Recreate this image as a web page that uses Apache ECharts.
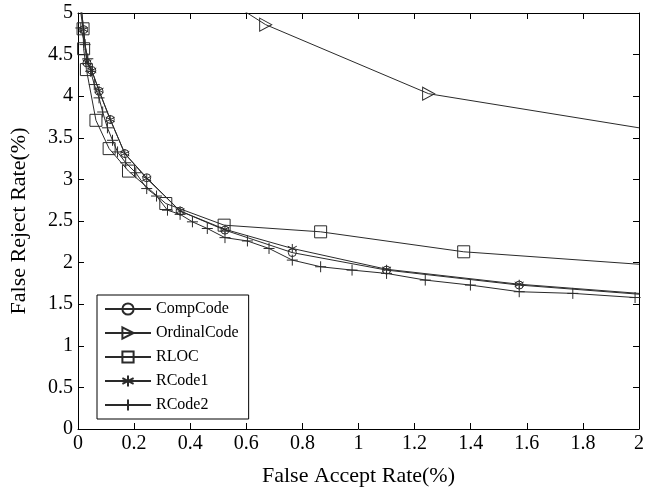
<!DOCTYPE html>
<html>
<head>
<meta charset="utf-8">
<script src="https://cdn.jsdelivr.net/npm/echarts@6/dist/echarts.min.js"></script>
<style>
html,body{margin:0;padding:0;background:#fff;}
#chart{width:647px;height:492px;}
</style>
</head>
<body>
<div id="chart"></div>
<script>
// ---- data ----
var seriesNames = ['CompCode', 'OrdinalCode', 'RLOC', 'RCode1', 'RCode2'];

var compX = [0.012, 0.02, 0.032, 0.049, 0.075, 0.115, 0.167, 0.245, 0.364, 0.524, 0.764, 1.10, 1.573, 2.0];
var compY = [5.05, 4.80, 4.40, 4.31, 4.06, 3.72, 3.31, 3.02, 2.62, 2.39, 2.12, 1.91, 1.73, 1.62];

var ordX = [0.50, 0.669, 1.25, 2.0];
var ordY = [5.22, 4.86, 4.03, 3.62];

var rlocX = [0.008, 0.018, 0.02, 0.03, 0.064, 0.111, 0.18, 0.313, 0.521, 0.865, 1.375, 2.0];
var rlocY = [5.05, 4.81, 4.57, 4.32, 3.71, 3.37, 3.10, 2.71, 2.45, 2.37, 2.13, 1.98];

var r1X = [0.012, 0.02, 0.032, 0.049, 0.075, 0.115, 0.167, 0.245, 0.364, 0.524, 0.764, 1.10, 1.573, 2.0];
var r1Y = [5.05, 4.80, 4.41, 4.31, 4.07, 3.72, 3.31, 3.01, 2.62, 2.40, 2.17, 1.92, 1.74, 1.63];

var r2X = [0.01, 0.025, 0.035, 0.045, 0.058, 0.075, 0.088, 0.105, 0.123, 0.141, 0.17, 0.206, 0.245, 0.28, 0.319, 0.364, 0.408, 0.461, 0.524, 0.604, 0.681, 0.764, 0.865, 0.977, 1.10, 1.238, 1.399, 1.573, 1.764, 1.986];
var r2Y = [4.82, 4.62, 4.45, 4.30, 4.14, 3.98, 3.81, 3.62, 3.47, 3.33, 3.20, 3.08, 2.89, 2.80, 2.63, 2.58, 2.49, 2.41, 2.30, 2.26, 2.17, 2.03, 1.95, 1.91, 1.87, 1.79, 1.73, 1.65, 1.63, 1.58];

var xTicks = {min: 0, max: 2, interval: 0.2};
var yTicks = {min: 0, max: 5, interval: 0.5};

// ---- helpers ----
var FONT = '"Liberation Serif", "DejaVu Serif", serif';
var LINE = '#2a2a2a';

// points lying on the right border are line ends (marker falls outside the plot)
function pairs(xs, ys) {
  return xs.map(function (x, i) {
    var item = {value: [x, ys[i]]};
    if (x >= xTicks.max) item.symbol = 'none';
    return item;
  });
}

var symbols = {
  CompCode: {symbol: 'circle', size: 8},
  OrdinalCode: {symbol: 'path://M0,0L10,5L0,10Z', size: [12, 13]},
  RLOC: {symbol: 'rect', size: 12},
  RCode1: {symbol: 'path://M5,0L5,10M0.7,2.5L9.3,7.5M9.3,2.5L0.7,7.5', size: 9},
  RCode2: {symbol: 'path://M5,0L5,10M0,5L10,5', size: 11}
};
var dataMap = {
  CompCode: pairs(compX, compY),
  OrdinalCode: pairs(ordX, ordY),
  RLOC: pairs(rlocX, rlocY),
  RCode1: pairs(r1X, r1Y),
  RCode2: pairs(r2X, r2Y)
};

var series = seriesNames.map(function (name) {
  return {
    name: name,
    type: 'line',
    xAxisIndex: 0,
    yAxisIndex: 0,
    data: dataMap[name],
    clip: true,
    symbol: symbols[name].symbol,
    symbolSize: symbols[name].size,
    showAllSymbol: true,
    animation: false,
    lineStyle: {color: LINE, width: 1},
    itemStyle: {color: 'rgba(255,255,255,0)', borderColor: LINE, borderWidth: 1}
  };
});

var axisCommon = {
  axisLine: {show: true, onZero: false, lineStyle: {color: '#000', width: 1}},
  axisTick: {show: true, inside: true, length: 6, lineStyle: {color: '#000'}},
  splitLine: {show: false}
};

var option = {
  backgroundColor: '#fff',
  animation: false,
  grid: {left: 77, right: 6, top: 13, bottom: 58, containLabel: false},
  legend: {
    data: seriesNames,
    orient: 'vertical',
    left: 97,
    top: 295,
    itemWidth: 46,
    itemHeight: 14,
    itemGap: 8,
    padding: [6, 10, 6, 7],
    backgroundColor: '#fff',
    borderColor: '#000',
    borderWidth: 1,
    borderRadius: 0,
    textStyle: {fontFamily: FONT, fontSize: 16, color: '#000', lineHeight: 14, padding: [0, 0, 0, 0]}
  },
  xAxis: [
    Object.assign({
      type: 'value', position: 'bottom',
      min: xTicks.min, max: xTicks.max, interval: xTicks.interval,
      name: 'False Accept Rate(%)', nameLocation: 'middle', nameGap: 36,
      nameTextStyle: {fontFamily: FONT, fontSize: 22, color: '#000'},
      axisLabel: {fontFamily: FONT, fontSize: 20, color: '#000', margin: 5}
    }, axisCommon),
    Object.assign({
      type: 'value', position: 'top',
      min: xTicks.min, max: xTicks.max, interval: xTicks.interval,
      axisLabel: {show: false}
    }, axisCommon)
  ],
  yAxis: [
    Object.assign({
      type: 'value', position: 'left',
      min: yTicks.min, max: yTicks.max, interval: yTicks.interval,
      name: 'False Reject Rate(%)', nameLocation: 'middle', nameGap: 48,
      nameTextStyle: {fontFamily: FONT, fontSize: 22, color: '#000'},
      axisLabel: {fontFamily: FONT, fontSize: 20, color: '#000', margin: 5}
    }, axisCommon),
    Object.assign({
      type: 'value', position: 'right',
      min: yTicks.min, max: yTicks.max, interval: yTicks.interval,
      axisLabel: {show: false}
    }, axisCommon)
  ],
  series: series
};

var chart = echarts.init(document.getElementById('chart'), null, {renderer: 'canvas'});
chart.setOption(option);
</script>
</body>
</html>
